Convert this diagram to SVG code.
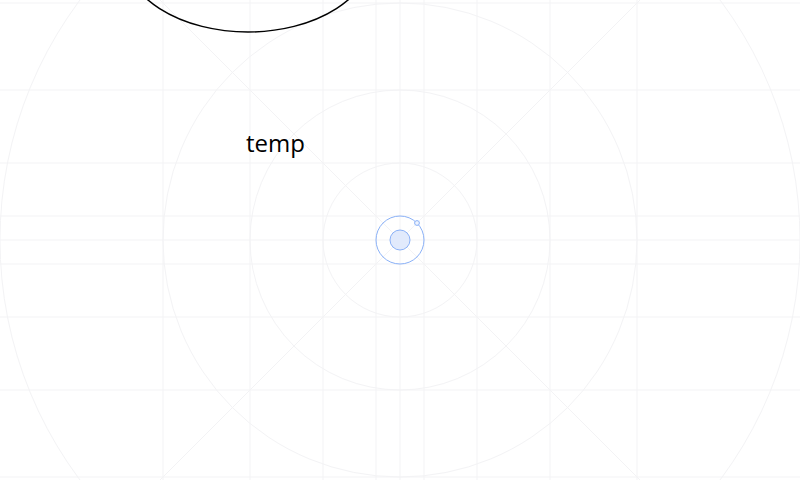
<svg xmlns="http://www.w3.org/2000/svg" width="800" height="480" viewBox="0 0 800 480">
  <style>
    .grid line, .grid circle { stroke: #f3f3f5; stroke-width: 1; fill: none; }
    .logo { stroke: #8ab1f7; stroke-width: 1; }
    .label { font-family: "Open Sans", "Noto Sans", sans-serif; font-size: 24px; fill: #000; }
  </style>
  <rect width="800" height="480" fill="#ffffff"/>
  <g id="grid" class="grid">
    <line x1="163" y1="0" x2="163" y2="480"/>
    <line x1="250" y1="0" x2="250" y2="480"/>
    <line x1="323" y1="0" x2="323" y2="480"/>
    <line x1="376" y1="0" x2="376" y2="480"/>
    <line x1="400" y1="0" x2="400" y2="480"/>
    <line x1="424" y1="0" x2="424" y2="480"/>
    <line x1="477" y1="0" x2="477" y2="480"/>
    <line x1="550" y1="0" x2="550" y2="480"/>
    <line x1="637" y1="0" x2="637" y2="480"/>
    <line x1="0" y1="3" x2="800" y2="3"/>
    <line x1="0" y1="90" x2="800" y2="90"/>
    <line x1="0" y1="163" x2="800" y2="163"/>
    <line x1="0" y1="216" x2="800" y2="216"/>
    <line x1="0" y1="240" x2="800" y2="240"/>
    <line x1="0" y1="264" x2="800" y2="264"/>
    <line x1="0" y1="317" x2="800" y2="317"/>
    <line x1="0" y1="390" x2="800" y2="390"/>
    <line x1="0" y1="477" x2="800" y2="477"/>
    <line x1="160" y1="0" x2="640" y2="480"/>
    <line x1="640" y1="0" x2="160" y2="480"/>
    <circle cx="400" cy="240" r="77"/>
    <circle cx="400" cy="240" r="150"/>
    <circle cx="400" cy="240" r="237"/>
    <circle cx="400" cy="240" r="400"/>
  </g>
  <g id="ellipse-node">
    <ellipse cx="248" cy="-48" rx="125" ry="80" fill="none" stroke="#000" stroke-width="1.5"/>
  </g>
  <g id="temp-label">
    <text class="label" x="246" y="152">temp</text>
  </g>
  <g id="logo">
    <circle class="logo" cx="400" cy="240" r="24" fill="none"/>
    <circle class="logo" cx="400" cy="240" r="10" fill="#e1eafc"/>
    <circle class="logo" cx="417" cy="223" r="2.4" fill="#eef3fd"/>
  </g>
</svg>
